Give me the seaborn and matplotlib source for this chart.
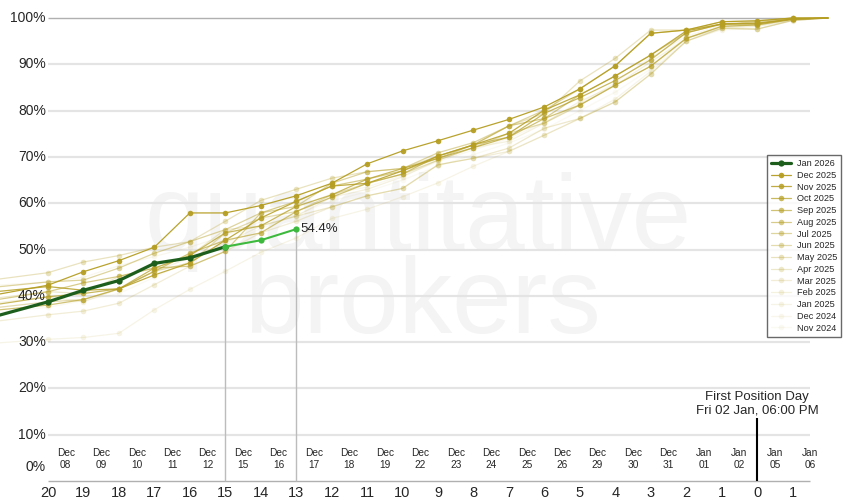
import numpy as np
import pandas as pd
import matplotlib
matplotlib.use("Agg")
import matplotlib.pyplot as plt
import seaborn as sns

# days to First Position Day (22 is the off-chart point the lines come in from)
days = [22, 20, 19, 18, 17, 16, 15, 14, 13, 12, 11, 10, 9, 8, 7, 6, 5, 4, 3, 2, 1, 0, -1, -2]

jan_2026 = [34.5, 38.7, 41.2, 43.3, 47.0, 48.2, 50.6, 52.0, 54.4]

dec_2025 = [39.5, 42.3, 45.2, 47.6, 50.5, 57.9, 57.9, 59.5, 61.6, 64.3, 68.5, 71.3, 73.5, 75.8, 78.1, 80.8, 84.7, 89.7, 96.7, 97.4, 99.2, 99.4, 100, 100]
nov_2025 = [40.5, 42.0, 41.2, 41.5, 44.5, 47.1, 52.0, 56.8, 60.4, 63.7, 64.3, 67.0, 70.2, 72.6, 75.1, 80.1, 83.4, 87.5, 92.0, 97.2, 98.7, 98.7, 99.8, 100]
oct_2025 = [37.5, 39.8, 40.5, 41.5, 46.0, 48.7, 53.6, 55.1, 59.3, 61.8, 65.2, 67.5, 69.7, 72.0, 74.3, 79.4, 82.8, 86.5, 91.0, 96.8, 98.7, 98.9, 99.8, 100]
sep_2025 = [36.5, 38.0, 39.2, 41.5, 45.3, 49.2, 52.0, 53.6, 58.2, 61.3, 64.3, 66.3, 70.2, 72.6, 74.3, 78.3, 81.2, 85.5, 89.6, 95.6, 98.2, 98.5, 99.7, 100]
aug_2025 = [38.5, 40.9, 42.8, 44.2, 46.0, 46.4, 49.6, 57.9, 60.4, 63.7, 65.2, 67.0, 69.7, 72.6, 76.7, 78.3, 83.4, 87.5, 92.0, 96.8, 98.7, 98.9, 99.8, 100]
jul_2025 = [41.5, 43.0, 43.4, 46.0, 49.2, 51.7, 54.3, 57.9, 59.3, 64.3, 66.8, 67.5, 70.9, 73.1, 76.7, 80.1, 84.7, 89.7, 96.7, 97.4, 98.7, 99.2, 100, 100]
jun_2025 = [37.0, 38.7, 39.2, 41.5, 45.3, 47.1, 53.6, 56.8, 58.2, 61.8, 64.3, 66.3, 69.3, 72.0, 75.1, 77.3, 81.2, 85.5, 89.6, 95.6, 98.2, 98.5, 99.7, 100]
may_2025 = [43.0, 45.0, 47.3, 48.7, 50.5, 51.7, 56.1, 60.6, 63.0, 65.4, 66.8, 67.5, 70.2, 72.6, 76.7, 79.4, 86.4, 91.3, 97.4, 97.4, 99.2, 99.4, 100, 100]
apr_2025 = [39.0, 40.9, 40.5, 44.2, 46.0, 48.7, 54.3, 55.1, 57.2, 59.2, 61.6, 63.2, 68.3, 69.7, 71.9, 76.2, 78.3, 81.9, 87.9, 95.0, 97.8, 97.6, 99.5, 100]
mar_2025 = [34.0, 35.9, 36.7, 38.4, 42.4, 46.4, 49.6, 53.6, 56.1, 59.2, 61.6, 63.2, 68.3, 69.7, 71.2, 74.7, 78.3, 81.9, 87.9, 95.0, 97.8, 97.6, 99.5, 100]
feb_2025 = [38.0, 39.8, 38.7, 41.5, 45.3, 48.2, 51.4, 55.1, 57.2, 61.3, 63.0, 65.7, 69.3, 72.0, 73.4, 77.3, 82.0, 85.5, 90.5, 95.6, 97.8, 98.2, 99.5, 100]
jan_2025 = [29.5, 30.6, 31.0, 31.9, 37.0, 41.4, 45.3, 49.4, 52.5, 56.7, 58.7, 61.4, 64.4, 68.0, 71.2, 74.7, 78.3, 82.5, 88.5, 95.0, 97.5, 97.6, 99.4, 100]
dec_2024 = [42.0, 43.0, 44.0, 46.5, 48.5, 50.5, 53.0, 56.0, 59.0, 62.0, 63.5, 66.0, 69.0, 71.5, 74.0, 77.5, 81.5, 86.0, 91.5, 96.0, 98.5, 98.8, 99.7, 100]
nov_2024 = [36.0, 37.5, 39.0, 40.5, 44.0, 47.5, 51.0, 54.5, 57.5, 60.5, 62.5, 65.0, 68.0, 70.5, 73.0, 76.0, 80.0, 84.0, 89.0, 95.5, 98.0, 98.3, 99.6, 100]

contracts = ["Dec 2025", "Nov 2025", "Oct 2025", "Sep 2025", "Aug 2025", "Jul 2025", "Jun 2025",
             "May 2025", "Apr 2025", "Mar 2025", "Feb 2025", "Jan 2025", "Dec 2024", "Nov 2024"]
history = [dec_2025, nov_2025, oct_2025, sep_2025, aug_2025, jul_2025, jun_2025,
           may_2025, apr_2025, mar_2025, feb_2025, jan_2025, dec_2024, nov_2024]
alphas = [0.95, 0.85, 0.72, 0.62, 0.52, 0.44, 0.36, 0.29, 0.23, 0.18, 0.14, 0.11, 0.08, 0.06]

tick_days = [20, 19, 18, 17, 16, 15, 14, 13, 12, 11, 10, 9, 8, 7, 6, 5, 4, 3, 2, 1, 0, -1]
tick_dates = ["Dec\n08", "Dec\n09", "Dec\n10", "Dec\n11", "Dec\n12", "Dec\n15", "Dec\n16", "Dec\n17",
              "Dec\n18", "Dec\n19", "Dec\n22", "Dec\n23", "Dec\n24", "Dec\n25", "Dec\n26", "Dec\n29",
              "Dec\n30", "Dec\n31", "Jan\n01", "Jan\n02", "Jan\n05", "Jan\n06"]
marked_days = [15, 13]

gold = "#b59e22"
dark_green = "#1d5e1d"
bright_green = "#3dba3d"

sns.set_style("white")
plt.rcParams["font.family"] = ["Liberation Sans", "DejaVu Sans"]

fig = plt.figure(figsize=(8.5, 5), dpi=100)
ax = fig.add_axes([0, 0, 1, 1])
ax.set_xlim(-21.354, 2.62)
ax.set_ylim(-4.1, 103.89)
ax.axis("off")

# watermark, behind everything
ax.text(418 / 850, 1 - 250 / 500, "quantitative", fontsize=77, color="#f4f4f4",
        ha="center", va="baseline", zorder=0, transform=fig.transFigure)
ax.text(422 / 850, 1 - 333 / 500, "brokers", fontsize=77, color="#f4f4f4",
        ha="center", va="baseline", zorder=0, transform=fig.transFigure)

# grid
for v in range(10, 100, 10):
    ax.hlines(v, -20, 1.5, color="#e4e4e4", lw=1.6, zorder=1)
ax.hlines([0, 100], -20, 1.5, color="#b0b0b0", lw=1.0, zorder=1)

x = [-d for d in days]
for name, vals, a in reversed(list(zip(contracts, history, alphas))):
    sns.lineplot(x=x, y=vals, ax=ax, color=gold, alpha=a, lw=0.9, marker="o",
                 markersize=4, markeredgewidth=0, markevery=list(range(len(x) - 1)),
                 label=name, sort=False, zorder=3)

jx = [-d for d in days[:len(jan_2026)]]
sns.lineplot(x=jx[:7], y=jan_2026[:7], ax=ax, color=dark_green, lw=2.3, marker="o",
             markersize=4.5, markeredgewidth=0, label="Jan 2026", sort=False, zorder=5)
sns.lineplot(x=jx[6:], y=jan_2026[6:], ax=ax, color=bright_green, lw=1.5, marker="o",
             markersize=4.5, markeredgewidth=0, label="_nolegend_", sort=False, zorder=5)

# vertical markers down from the current points
for d in marked_days:
    v = jan_2026[days.index(d)]
    ax.vlines(-d, 0, v, color="#bcbcbc", lw=1.0, zorder=2)
ax.annotate(f"{jan_2026[-1]:.1f}%", (jx[-1], jan_2026[-1]), xytext=(3, 0),
            textcoords="offset points", va="center", fontsize=9.5, zorder=6)

# first position day
ax.vlines(0, 0, 13.6, color="black", lw=1.5, zorder=6)
ax.text(0, 18.1, "First Position Day", ha="center", va="center", fontsize=9.5)
ax.text(0, 15.3, "Fri 02 Jan, 06:00 PM", ha="center", va="center", fontsize=9.5)

# axis labels
for v in range(0, 101, 10):
    ax.text(-20.06, 3.0 if v == 0 else v, f"{v}%", ha="right", va="center", fontsize=10)
for d, lab in zip(tick_days, tick_dates):
    ax.text(-d, -2.5, str(abs(d)), ha="center", va="center", fontsize=10.5)
    ax.text(-d + 0.5, 4.65, lab, ha="center", va="center", fontsize=7.3, linespacing=1.25)

handles, labels = ax.get_legend_handles_labels()
order = [labels.index(n) for n in ["Jan 2026"] + contracts]
leg = ax.legend([handles[i] for i in order], [labels[i] for i in order],
                loc="upper left", bbox_to_anchor=(767 / 850, 1 - 155 / 500),
                bbox_transform=fig.transFigure, fontsize=6.6, frameon=True,
                fancybox=False, edgecolor="#444444", borderpad=0.45,
                labelspacing=0.3, handlelength=2.2, handletextpad=0.6, borderaxespad=0)
leg.get_frame().set_linewidth(1.0)

fig.savefig("out.png", dpi=100)
